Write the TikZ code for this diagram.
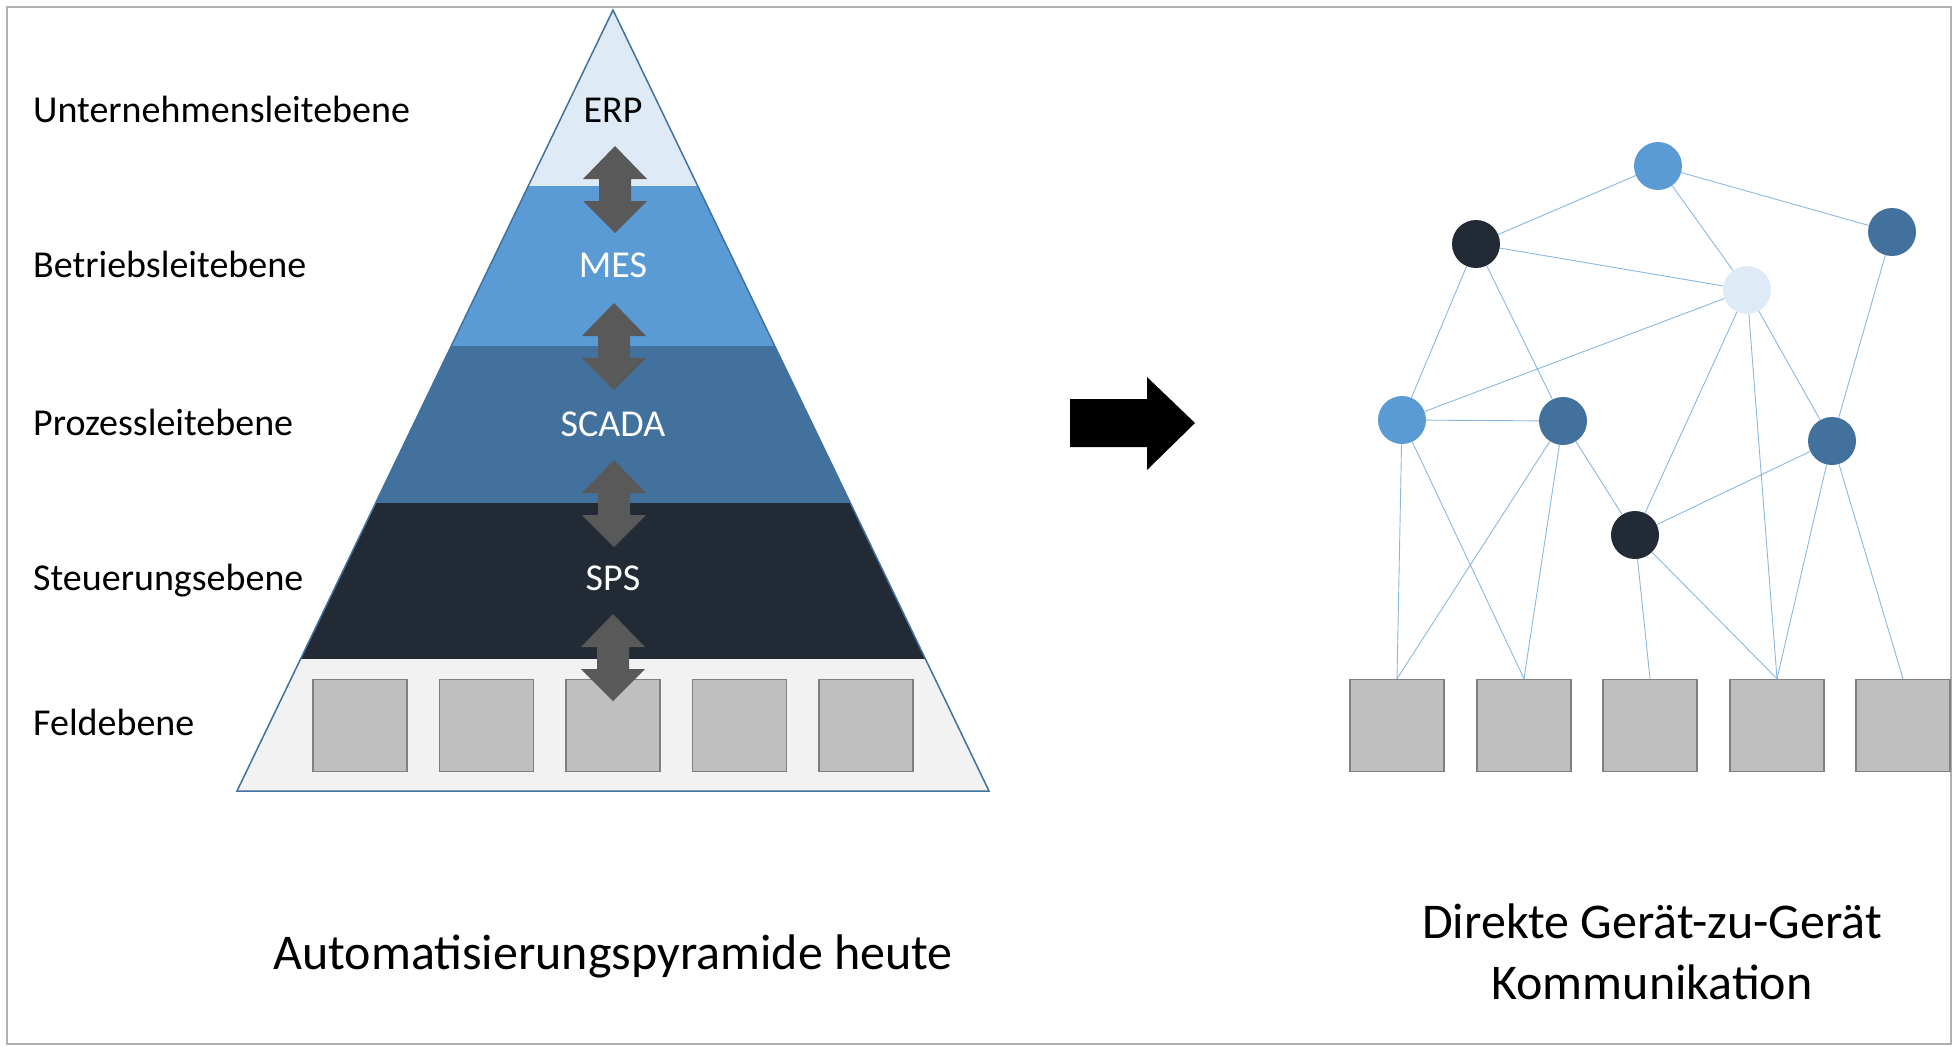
\documentclass[tikz,border=0pt]{standalone}
\usepackage{fontspec}
\setmainfont{Carlito}
\usetikzlibrary{calc}

\definecolor{erpfill}{HTML}{DEEBF7}
\definecolor{mesfill}{HTML}{5B9BD5}
\definecolor{scadafill}{HTML}{41719C}
\definecolor{spsfill}{HTML}{222A35}
\definecolor{feldfill}{HTML}{F2F2F2}
\definecolor{arrowgray}{HTML}{595959}
\definecolor{devfill}{HTML}{BFBFBF}
\definecolor{devline}{HTML}{7F7F7F}
\definecolor{framegray}{HTML}{B0B0B0}
\definecolor{linkblue}{HTML}{5B9BD5}

\tikzset{
  lbl/.style={font=\fontsize{38}{45}\selectfont, inner sep=0pt, anchor=base west},
  lvl/.style={font=\fontsize{38}{45}\selectfont, inner sep=0pt, anchor=base},
  title/.style={font=\fontsize{50}{60}\selectfont, inner sep=0pt, align=center},
  device/.style={rectangle, fill=devfill, draw=devline, line width=1.5pt,
                 minimum width=94pt, minimum height=92pt, inner sep=0pt},
  peer/.style={circle, minimum size=48pt, inner sep=0pt},
  link/.style={draw=linkblue, line width=0.9pt, opacity=0.7},
  dblarrow/.pic={
    \fill[arrowgray] (0,0) -- (32,33) -- (16,33) -- (16,55) -- (32,55)
      -- (0,87) -- (-32,55) -- (-16,55) -- (-16,33) -- (-32,33) -- cycle;
  }
}

\begin{document}
\begin{tikzpicture}[x=1pt, y=-1pt]
\useasboundingbox (0,0) rectangle (1959,1045);
\fill[white] (0,0) rectangle (1959,1045);
\draw[framegray, line width=2pt] (7,7) rectangle (1951,1044);

% pyramid layers, top to bottom
\coordinate (apex) at (613,10);
\coordinate (bl) at (237,791);
\coordinate (br) at (989,791);
\fill[erpfill]   (apex) -- (697.7,186) -- (528.3,186) -- cycle;
\fill[mesfill]   (528.3,186) -- (697.7,186) -- (774.7,346) -- (451.3,346) -- cycle;
\fill[scadafill] (451.3,346) -- (774.7,346) -- (850.3,503) -- (375.7,503) -- cycle;
\fill[spsfill]   (375.7,503) -- (850.3,503) -- (925.4,659) -- (300.6,659) -- cycle;
\fill[feldfill]  (300.6,659) -- (925.4,659) -- (br) -- (bl) -- cycle;
\draw[scadafill, line width=1.5pt, line join=miter] (apex) -- (br) -- (bl) -- cycle;

% field devices inside the pyramid base
\foreach \i/\x in {1/360, 2/486.5, 3/613, 4/739.5, 5/866}
  \node[device] (pf\i) at (\x,725.5) {};

% level names inside the pyramid
\node[lvl] (erp) at (613,122) {ERP};
\node[lvl, text=white] (mes) at (613,277) {MES};
\node[lvl, text=white] (scada) at (613,436) {SCADA};
\node[lvl, text=white] (sps) at (613,590) {SPS};

% vertical exchange between neighbouring levels
\pic at (615,146) {dblarrow};
\pic at (614,303) {dblarrow};
\pic at (614,460) {dblarrow};
\pic at (613,614) {dblarrow};

% level descriptions on the left
\node[lbl] (l1) at (33,122) {Unternehmensleitebene};
\node[lbl] (l2) at (33,277) {Betriebsleitebene};
\node[lbl] (l3) at (33,435) {Prozessleitebene};
\node[lbl] (l4) at (33,590) {Steuerungsebene};
\node[lbl] (l5) at (33,735) {Feldebene};

\node[title, anchor=base] (ltitle) at (613,969) {Automatisierungspyramide heute};

% transition arrow
\fill[black] (1070,399) -- (1147,399) -- (1147,377) -- (1195,423)
  -- (1147,470) -- (1147,447) -- (1070,447) -- cycle;

% device-to-device network
\node[peer, fill=mesfill]   (n1) at (1658,166) {};
\node[peer, fill=spsfill]   (n2) at (1476,244) {};
\node[peer, fill=scadafill] (n3) at (1892,232) {};
\node[peer, fill=erpfill]   (n4) at (1747,290) {};
\node[peer, fill=mesfill]   (n5) at (1402,420) {};
\node[peer, fill=scadafill] (n6) at (1563,421) {};
\node[peer, fill=scadafill] (n7) at (1832,441) {};
\node[peer, fill=spsfill]   (n8) at (1635,535) {};

\foreach \i/\x in {1/1397, 2/1524, 3/1650, 4/1777, 5/1903}
  \node[device] (d\i) at (\x,725.5) {};

\foreach \a/\b in {n1/n2, n1/n3, n1/n4, n2/n4, n2/n5, n2/n6, n4/n5, n5/n6,
                   n4/n8, n4/n7, n3/n7, n6/n8, n7/n8}
  \draw[link] (\a) -- (\b);
\foreach \a/\b in {n5/d1, n5/d2, n6/d1, n6/d2, n8/d3, n8/d4, n4/d4, n7/d4, n7/d5}
  \draw[link] (\a) -- (\b.north);

\node[title, anchor=base] (rtitle1) at (1652,938) {Direkte Gerät-zu-Gerät};
\node[title, anchor=base] (rtitle2) at (1652,999) {Kommunikation};
\end{tikzpicture}
\end{document}
